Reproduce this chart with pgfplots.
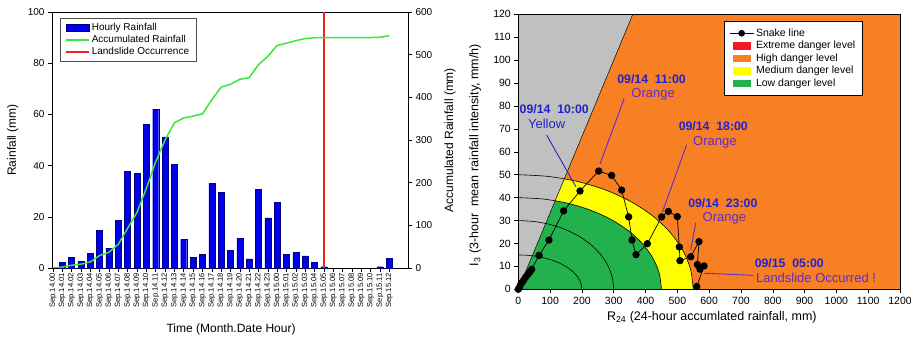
\documentclass[border=0pt]{standalone}
\usepackage{pgfplots}
\pgfplotsset{compat=1.18}
\usepackage{fontspec}
\setmainfont{Liberation Sans}
\definecolor{barC}{RGB}{0,0,235}
\definecolor{barEdge}{RGB}{0,0,130}
\definecolor{accC}{RGB}{60,230,60}
\definecolor{slideC}{RGB}{235,35,35}
\definecolor{orangeC}{RGB}{247,127,36}
\definecolor{grayC}{RGB}{192,192,192}
\definecolor{yellowC}{RGB}{255,255,0}
\definecolor{greenC}{RGB}{34,177,76}
\definecolor{redC}{RGB}{237,28,36}
\definecolor{annBlue}{RGB}{35,35,205}
\definecolor{annPurple}{RGB}{95,45,205}

\pgfplotstableread{
x acc
0 0
1 2.2
2 6.4
3 8.9
4 14.5
5 29.2
6 37.0
7 55.7
8 93.4
9 130.5
10 186.6
11 248.7
12 299.9
13 340.5
14 351.7
15 355.9
16 361.1
17 394.2
18 423.8
19 430.6
20 442.3
21 445.9
22 476.5
23 496.1
24 521.7
25 526.9
26 532.9
27 537.6
28 539.7
29 540.2
30 540.2
31 540.2
32 540.2
33 540.2
34 540.2
35 540.7
36 544.5
}\acctable

\newcommand{\fs}[1]{\fontsize{#1}{#1}\selectfont}

\begin{document}
\begin{tikzpicture}
\useasboundingbox (0,0) rectangle (911pt,343pt);

% ---------------- left chart: hourly rainfall ----------------
\begin{axis}[
  at={(52pt,75pt)}, anchor=south west, scale only axis,
  width=356pt, height=256pt, clip mode=individual,
  xmin=-0.1, xmax=38, ymin=0, ymax=100,
  ytick={0,20,...,100}, ytick pos=left,
  xtick={0,...,36}, xtick pos=bottom,
  xticklabels={Sep.14.00,Sep.14.01,Sep.14.02,Sep.14.03,Sep.14.04,Sep.14.05,Sep.14.06,Sep.14.07,Sep.14.08,Sep.14.09,Sep.14.10,Sep.14.11,Sep.14.12,Sep.14.13,Sep.14.14,Sep.14.15,Sep.14.16,Sep.14.17,Sep.14.18,Sep.14.19,Sep.14.20,Sep.14.21,Sep.14.22,Sep.14.23,Sep.15.00,Sep.15.01,Sep.15.02,Sep.15.03,Sep.15.04,Sep.15.05,Sep.15.06,Sep.15.07,Sep.15.08,Sep.15.09,Sep.15.10,Sep.15.11,Sep.15.12},
  tick align=outside, major tick length=4pt,
  x tick label style={rotate=90, anchor=east, font=\fs{7.6}, inner sep=1pt},
  y tick label style={font=\fs{10}},
  /pgf/number format/assume math mode=true,
  axis line style={black, line width=0.6pt},
  tick style={black, line width=0.5pt},
  legend style={at={(axis description cs:0.0225,0.977)}, anchor=north west,
    draw=black!70, line width=0.6pt, fill=white, font=\fs{10},
    inner xsep=5pt, inner ysep=3pt, row sep=-0.5pt},
  legend cell align=left,
]
\addplot[ybar, bar width=6pt, fill=barC, draw=barEdge, line width=0.4pt,
  legend image code/.code={\draw[fill=barC,draw=barEdge] (0pt,-3.8pt) rectangle (23pt,3.8pt);}]
  coordinates {(1,2.2) (2,4.2) (3,2.5) (4,5.6) (5,14.7) (6,7.8) (7,18.7) (8,37.7) (9,37.1) (10,56.1) (11,62.1) (12,51.2) (13,40.6) (14,11.2) (15,4.2) (16,5.2) (17,33.1) (18,29.6) (19,6.8) (20,11.7) (21,3.6) (22,30.6) (23,19.6) (24,25.6) (25,5.2) (26,6.0) (27,4.7) (28,2.1) (29,0.5) (35,0.5) (36,3.8)};
\addlegendentry{Hourly Rainfall}
\addlegendimage{legend image code/.code={\draw[accC, line width=1.5pt] (0pt,0pt) -- (23pt,0pt);}}
\addlegendentry{Accumulated Rainfall}
\addplot[color=slideC, line width=1.5pt,
  legend image code/.code={\draw[slideC, line width=1.5pt] (0pt,0pt) -- (23pt,0pt);}]
  coordinates {(29,0) (29,100)};
\addlegendentry{Landslide Occurrence}
\node[rotate=90, font=\fs{12}] at (axis description cs:-0.11,0.5) {Rainfall (mm)};
\node[font=\fs{12}] at (axis description cs:0.503,-0.238) {Time (Month.Date Hour)};
\end{axis}

\begin{axis}[
  at={(52pt,75pt)}, anchor=south west, scale only axis,
  width=356pt, height=256pt, clip mode=individual,
  xmin=-0.1, xmax=38, ymin=0, ymax=600,
  axis y line*=right, axis x line=none,
  ytick={0,100,...,600},
  tick align=outside, major tick length=4pt,
  y tick label style={font=\fs{10}},
  /pgf/number format/assume math mode=true,
  axis line style={black, line width=0.6pt},
  tick style={black, line width=0.5pt},
]
\addplot[color=accC, line width=1.5pt] table[x=x, y=acc] {\acctable};
\node[rotate=90, font=\fs{12}] at (axis description cs:1.118,0.5) {Accumulated Rainfall (mm)};
\end{axis}

% ---------------- right chart: snake line ----------------
\begin{axis}[
  at={(518.3pt,53.7pt)}, anchor=south west, scale only axis,
  width=381.7pt, height=275pt, clip mode=individual,
  xmin=0, xmax=1200, ymin=0, ymax=120,
  xtick={0,100,...,1200},
  xticklabels={0,100,200,300,400,500,600,700,800,900,1000,1100,1200},
  ytick={0,10,...,120}, xtick pos=bottom, ytick pos=left,
  tick align=outside, major tick length=4pt,
  tick label style={font=\fs{10.5}},
  /pgf/number format/assume math mode=true,
  axis background/.style={fill=orangeC},
  axis on top,
  axis line style={black, line width=0.6pt},
  tick style={black, line width=0.5pt},
  legend style={at={(axis description cs:0.539,0.976)}, anchor=north west,
    draw=black, line width=0.6pt, fill=white, font=\fs{10.5},
    inner xsep=5pt, inner ysep=5.5pt, row sep=-0.6pt},
  legend cell align=left,
]
\addlegendimage{legend image code/.code={\draw[black, line width=0.7pt] (0pt,0pt) -- (24pt,0pt); \fill[black] (12pt,0pt) circle (3pt);}}
\addlegendentry{Snake line}
\addlegendimage{legend image code/.code={\fill[redC] (4pt,-3.3pt) rectangle (21pt,3.3pt);}}
\addlegendentry{Extreme danger level\hspace{24pt}}
\addlegendimage{legend image code/.code={\fill[orangeC] (4pt,-3.3pt) rectangle (21pt,3.3pt);}}
\addlegendentry{High danger level}
\addlegendimage{legend image code/.code={\fill[yellowC] (4pt,-3.3pt) rectangle (21pt,3.3pt);}}
\addlegendentry{Medium danger level}
\addlegendimage{legend image code/.code={\fill[greenC] (4pt,-3.3pt) rectangle (21pt,3.3pt);}}
\addlegendentry{Low danger level}

% medium (yellow) zone: ellipse R=550, I=50
\addplot[forget plot, fill=yellowC, draw=none, smooth] coordinates {
 (550,0) (541.6,8.68) (516.8,17.10) (476.3,25) (421.3,32.14) (353.5,38.30) (275,43.30) (188.1,46.98) (95.5,49.24) (0,50)} \closedcycle;
% low (green) zone: ellipse R=450, I=40
\addplot[forget plot, fill=greenC, draw=none, smooth] coordinates {
 (450,0) (443.2,6.95) (422.9,13.68) (389.7,20) (344.7,25.71) (289.3,30.64) (225,34.64) (153.9,37.59) (78.1,39.39) (0,40)} \closedcycle;
% grey zone left of I = R/3
\addplot[forget plot, fill=grayC, draw=none] coordinates {(0,0) (360,120) (0,120)} \closedcycle;
% boundary line
\addplot[forget plot, black, line width=0.5pt] coordinates {(0,0) (360,120)};
% threshold curves
\addplot[forget plot, black, line width=0.6pt, smooth] coordinates {
 (550,0) (541.6,8.68) (516.8,17.10) (476.3,25) (421.3,32.14) (353.5,38.30) (275,43.30) (188.1,46.98) (95.5,49.24) (0,50)};
\addplot[forget plot, black, line width=0.6pt, smooth] coordinates {
 (450,0) (443.2,6.95) (422.9,13.68) (389.7,20) (344.7,25.71) (289.3,30.64) (225,34.64) (153.9,37.59) (78.1,39.39) (0,40)};
\addplot[forget plot, black, line width=0.6pt, smooth] coordinates {
 (300,0) (295.4,5.21) (281.9,10.26) (259.8,15) (229.8,19.28) (192.8,22.98) (150,25.98) (102.6,28.19) (52.1,29.54) (0,30)};
\addplot[forget plot, black, line width=0.6pt, smooth] coordinates {
 (200,0) (197,2.60) (187.9,5.13) (173.2,7.5) (153.2,9.64) (128.6,11.49) (100,12.99) (68.4,14.10) (34.7,14.77) (0,15)};

% snake line
\addplot[forget plot, black, line width=0.7pt, mark=*, mark size=3.3pt, mark options={fill=black}] coordinates {
 (0,0) (3,0.7) (7,2) (12,3) (17,4) (23,5.3) (30,6.5) (36,7.5) (42,8.7) (65,14.8) (96.4,21.5) (142.5,34.2) (194,42.9) (252.6,51.6) (293.4,49.7) (324.9,43.3) (346.9,31.6) (357.4,21.5) (370,15.1) (405.6,19.9) (450.6,31.6) (471.6,34.0) (499.9,31.7) (506.2,18.5) (508.3,12.5) (542,14.2) (568,20.8) (563,10.8) (571,8.8) (584,10.2) (561,1.2)};

% annotations
\draw[annBlue, line width=0.9pt] (axis cs:89,67.3) -- (axis cs:181,44.8);
\node[annBlue, font=\fs{12.3}\bfseries] at (axis cs:113,78.8) {09/14\ \ 10:00};
\node[annBlue, font=\fs{13}] at (axis cs:89,72.1) {Yellow};

\draw[annPurple, line width=0.9pt] (axis cs:333,83.3) -- (axis cs:257,54.7);
\node[annBlue, font=\fs{12.3}\bfseries] at (axis cs:419,91.8) {09/14\ \ 11:00};
\node[annPurple, font=\fs{13}] at (axis cs:424,85.1) {Orange};

\draw[annPurple, line width=0.9pt] (axis cs:529,63) -- (axis cs:453,33.7);
\node[annBlue, font=\fs{12.3}\bfseries] at (axis cs:613,71) {09/14\ \ 18:00};
\node[annPurple, font=\fs{13}] at (axis cs:618,64.1) {Orange};

\draw[annPurple, line width=0.9pt] (axis cs:558,29.1) -- (axis cs:542,17.1);
\node[annBlue, font=\fs{12.3}\bfseries] at (axis cs:643,37.8) {09/14\ \ 23:00};
\node[annPurple, font=\fs{13}] at (axis cs:648,31) {Orange};

\draw[annPurple, line width=0.9pt] (axis cs:739,6.1) -- (axis cs:585,7);
\node[annBlue, font=\fs{12.3}\bfseries] at (axis cs:852,11.3) {09/15\ \ 05:00};
\node[annPurple, font=\fs{13}] at (axis cs:936,4.8) {Landslide Occurred !};

\node[rotate=90, font=\fs{12.5}] at (axis description cs:-0.113,0.488) {I\textsubscript{3} (3-hour\ \ mean rainfall intensity, mm/h)};
\node[font=\fs{12.5}] at (axis description cs:0.507,-0.1) {R\textsubscript{24} (24-hour accumlated rainfall, mm)};
\end{axis}
\end{tikzpicture}
\end{document}
